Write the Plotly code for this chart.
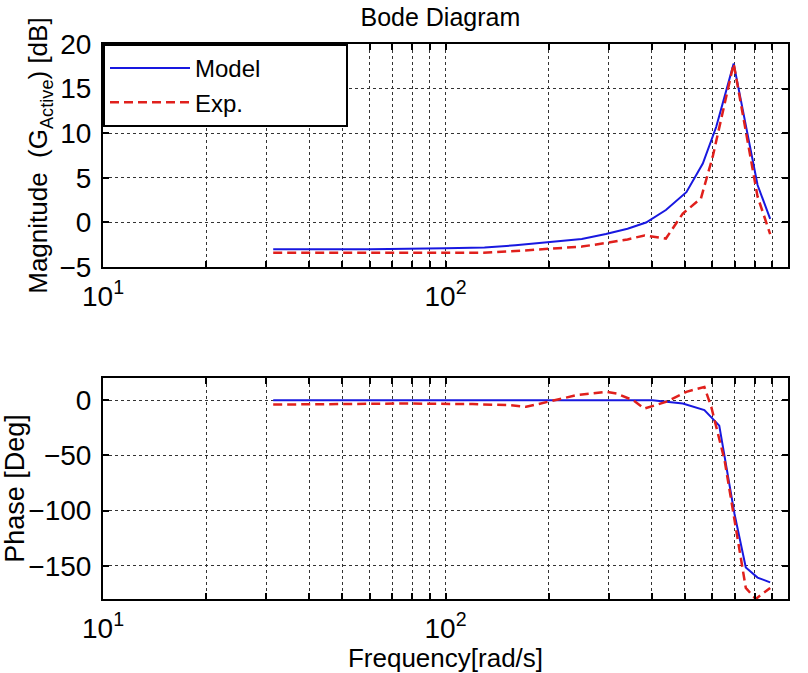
import plotly.graph_objects as go

# ---- data ----
mag_model_f = [31.4, 60, 100, 130, 160, 200, 250, 294, 340, 385, 440, 505, 564, 617, 694, 815, 887]
mag_model_db = [-3.0, -3.0, -2.9, -2.8, -2.55, -2.2, -1.85, -1.3, -0.7, 0.0, 1.4, 3.4, 6.6, 10.7, 17.8, 4.2, 0.4]

mag_exp_f = [31.4, 60, 100, 129, 160, 197, 250, 294, 340, 381, 440, 493, 557, 603, 694, 815, 887]
mag_exp_db = [-3.4, -3.4, -3.4, -3.4, -3.2, -2.95, -2.7, -2.3, -1.9, -1.45, -1.8, 1.0, 2.7, 7.4, 17.8, 2.9, -1.3]

ph_model_f = [31.4, 100, 200, 300, 402, 493, 570, 630, 698, 753, 815, 887]
ph_model_deg = [0, 0, 0, 0, 0, -3, -9, -23, -103, -151.5, -160.6, -165]

ph_exp_f = [31.4, 73.6, 120, 154, 172, 200, 241, 294, 316, 353, 381, 440, 505, 570, 597, 653, 705, 753, 805, 887]
ph_exp_deg = [-4, -3, -3.5, -4.5, -6, -1.5, 4.5, 7.6, 6, 0, -7.6, -1.5, 7.6, 12, -6, -54.5, -115, -170, -180, -170]

x_tickvals = [m * 10 ** e for e in (1, 2) for m in range(1, 10)] + [1000]
x_ticktext = ["10<sup>1</sup>" if v == 10 else "10<sup>2</sup>" if v == 100 else "10<sup>3</sup>" if v == 1000 else "" for v in x_tickvals]
mag_ticks = [-5, 0, 5, 10, 15, 20]
ph_ticks = [-150, -100, -50, 0]

FONT = "Arial, Liberation Sans, Helvetica, sans-serif"
BLUE = "#1818e0"
RED = "#e0201c"
PAD = "\u00a0" * 12

fig = go.Figure()
fig.add_trace(go.Scatter(x=mag_model_f, y=mag_model_db, mode="lines", name="Model" + PAD,
                         line=dict(color=BLUE, width=2), xaxis="x", yaxis="y"))
fig.add_trace(go.Scatter(x=mag_exp_f, y=mag_exp_db, mode="lines", name="Exp." + PAD,
                         line=dict(color=RED, width=2.5, dash="9px,5px"), xaxis="x", yaxis="y"))
fig.add_trace(go.Scatter(x=ph_model_f, y=ph_model_deg, mode="lines", showlegend=False,
                         line=dict(color=BLUE, width=2), xaxis="x2", yaxis="y2"))
fig.add_trace(go.Scatter(x=ph_exp_f, y=ph_exp_deg, mode="lines", showlegend=False,
                         line=dict(color=RED, width=2.5, dash="9px,5px"), xaxis="x2", yaxis="y2"))

common_x = dict(type="log", range=[1, 3], tickmode="array", tickvals=x_tickvals, ticktext=x_ticktext,
                ticks="inside", ticklen=6, tickwidth=1.5, tickcolor="black",
                showline=True, linecolor="black", linewidth=2, mirror="ticks",
                showgrid=True, gridcolor="#333", griddash="dot", gridwidth=1,
                zeroline=False, tickfont=dict(size=28, color="black"), ticklabelstandoff=3,
                automargin=False)
common_y = dict(ticks="inside", ticklen=6, tickwidth=1.5, tickcolor="black",
                showline=True, linecolor="black", linewidth=2, mirror="ticks",
                showgrid=True, gridcolor="#333", griddash="dot", gridwidth=1,
                zeroline=False, tickfont=dict(size=28, color="black"), ticklabelstandoff=4,
                automargin=True)

fig.update_layout(
    width=808, height=673,
    margin=dict(l=103, r=20, t=44, b=74, autoexpand=False),
    paper_bgcolor="white", plot_bgcolor="white",
    font=dict(family=FONT, size=26, color="black"),
    title=dict(text="Bode Diagram", x=0.545, xanchor="center", y=1 - 17 / 673, yanchor="middle",
               font=dict(size=25, color="black"), automargin=False),
    xaxis=dict(domain=[0, 1], anchor="y", **common_x),
    yaxis=dict(domain=[0.598, 1.0], anchor="x", range=[-5, 20], tickvals=mag_ticks,
               title=dict(text="Magnitude  (G<sub>Active</sub>) [dB]", font=dict(size=26), standoff=4), **common_y),
    xaxis2=dict(domain=[0, 1], anchor="y2",
                title=dict(text="Frequency[rad/s]", font=dict(size=26), standoff=4), **common_x),
    yaxis2=dict(domain=[0.0, 0.398], anchor="x2", range=[-180, 20], tickvals=ph_ticks,
                title=dict(text="Phase [Deg]", font=dict(size=27), standoff=3), **common_y),
    legend=dict(x=0, y=1, xanchor="left", yanchor="top", xref="paper", yref="paper",
                bgcolor="white", bordercolor="black", borderwidth=2,
                font=dict(size=24, color="black"), itemwidth=80,
                tracegroupgap=0),
    showlegend=True,
)

fig.write_html("out.html", config={"displayModeBar": False},
               post_script="document.body.style.margin='0';")
